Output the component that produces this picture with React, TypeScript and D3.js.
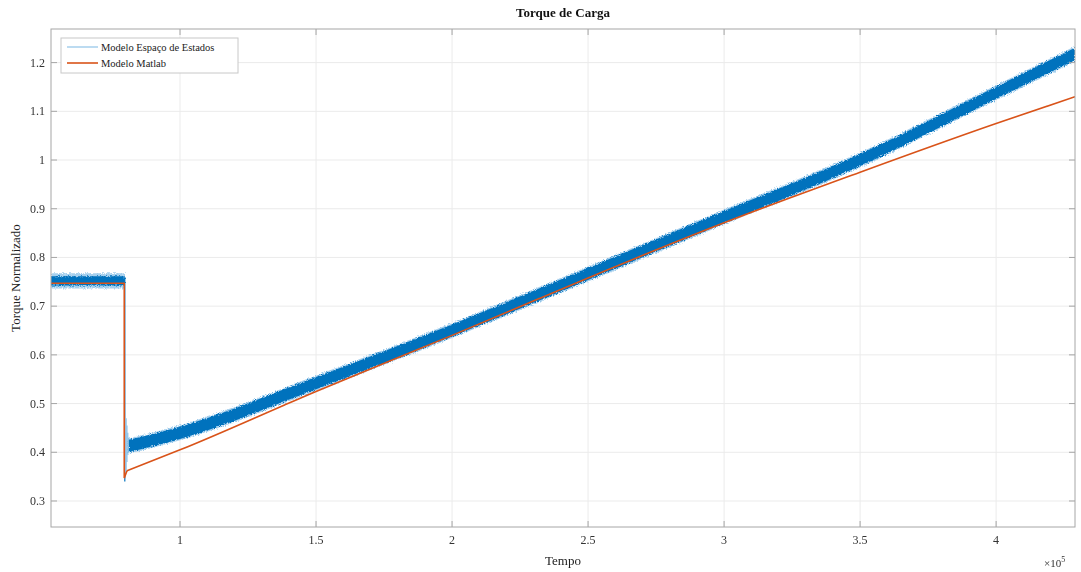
import React from "react";
import * as d3 from "d3";

const W = 1081;
const H = 572;
const margin = { left: 51, right: 6, top: 29, bottom: 45 };

const xTicks = [1, 1.5, 2, 2.5, 3, 3.5, 4];
const yTicks = [0.3, 0.4, 0.5, 0.6, 0.7, 0.8, 0.9, 1, 1.1, 1.2];

// Modelo Espaço de Estados (noisy band): center and half-width
const blueFlatX = [0.526, 0.6, 0.7, 0.797];
const blueFlatY = [0.752, 0.752, 0.752, 0.752];
const blueRampX = [0.812, 0.9, 1.0, 1.5, 2.0, 2.5, 3.0, 3.5, 4.0, 4.29];
const blueRampY = [0.413, 0.425, 0.44, 0.542, 0.65, 0.766, 0.883, 1.0, 1.138, 1.218];
const blueHalf = 0.0125;
// transient spikes around the step
const spikeX = [0.797, 0.799, 0.802, 0.805, 0.808, 0.811];
const spikeLo = [0.34, 0.345, 0.36, 0.38, 0.395, 0.4];
const spikeHi = [0.76, 0.44, 0.47, 0.455, 0.44, 0.43];

// Modelo Matlab
const orangeStepX = [0.526, 0.795, 0.795, 0.805];
const orangeStepY = [0.747, 0.747, 0.347, 0.362];
const orangeRampX = [0.805, 1.0, 1.5, 2.0, 2.5, 3.0, 3.5, 4.0, 4.29];
const orangeRampY = [0.362, 0.405, 0.525, 0.64, 0.758, 0.871, 0.975, 1.075, 1.13];

const BLUE = "#0072BD";
const LIGHT_BLUE = "#8fc3e8";
const ORANGE = "#D95319";
const FONT = "'Liberation Serif', 'DejaVu Serif', serif";

export default function App() {
  const x = d3.scaleLinear().domain([0.5257, 4.29]).range([margin.left, W - margin.right]);
  const y = d3.scaleLinear().domain([0.2466, 1.269]).range([H - margin.bottom, margin.top]);

  const x0 = margin.left, x1 = W - margin.right, y0 = margin.top, y1 = H - margin.bottom;

  const band = (xs: number[], ys: number[], h: number) =>
    d3
      .area<number>()
      .curve(d3.curveMonotoneX)
      .x((_, i) => x(xs[i]))
      .y0((d) => y(d - h))
      .y1((d) => y(d + h))(ys) || "";

  const stepLine =
    d3
      .line<number>()
      .x((_, i) => x(orangeStepX[i]))
      .y((d) => y(d))(orangeStepY) || "";
  const rampLine =
    d3
      .line<number>()
      .curve(d3.curveMonotoneX)
      .x((_, i) => x(orangeRampX[i]))
      .y((d) => y(d))(orangeRampY) || "";

  return (
    <svg width={W} height={H} style={{ display: "block", position: "absolute", left: 0, top: 0 }} fontFamily={FONT}>
      <rect x={0} y={0} width={W} height={H} fill="#fff" />
      <defs>
        <clipPath id="plot">
          <rect x={x0} y={y0} width={x1 - x0} height={y1 - y0} />
        </clipPath>
        <filter id="rough" x="-5%" y="-20%" width="110%" height="140%">
          <feTurbulence type="fractalNoise" baseFrequency="0.9" numOctaves={2} seed={3} result="n" />
          <feDisplacementMap in="SourceGraphic" in2="n" scale={4} xChannelSelector="R" yChannelSelector="G" />
        </filter>
      </defs>
      {/* grid */}
      {xTicks.map((t) => (
        <line key={"gx" + t} x1={x(t)} x2={x(t)} y1={y0} y2={y1} stroke="#ebebeb" strokeWidth={1} />
      ))}
      {yTicks.map((t) => (
        <line key={"gy" + t} x1={x0} x2={x1} y1={y(t)} y2={y(t)} stroke="#ebebeb" strokeWidth={1} />
      ))}
      <g clipPath="url(#plot)">
        {/* blue halo */}
        <g filter="url(#rough)">
          <path d={band(blueFlatX, blueFlatY, blueHalf + 0.003)} fill={LIGHT_BLUE} opacity={0.8} />
          <path d={band(blueRampX, blueRampY, blueHalf + 0.003)} fill={LIGHT_BLUE} opacity={0.8} />
        </g>
        {spikeX.map((sx, i) => (
          <line key={"sp" + i} x1={x(sx)} x2={x(sx)} y1={y(spikeLo[i])} y2={y(spikeHi[i])} stroke={i === 0 ? BLUE : LIGHT_BLUE} strokeWidth={1.2} />
        ))}
        <g filter="url(#rough)">
          <path d={band(blueFlatX, blueFlatY, blueHalf - 0.003)} fill={BLUE} />
          <path d={band(blueRampX, blueRampY, blueHalf)} fill={BLUE} />
        </g>
        <path d={stepLine} fill="none" stroke={ORANGE} strokeWidth={1.6} />
        <path d={rampLine} fill="none" stroke={ORANGE} strokeWidth={1.6} />
      </g>
      {/* frame */}
      <rect x={x0} y={y0} width={x1 - x0} height={y1 - y0} fill="none" stroke="#a6a6a6" strokeWidth={1} />
      {/* ticks */}
      {xTicks.map((t) => (
        <g key={"tx" + t}>
          <line x1={x(t)} x2={x(t)} y1={y1} y2={y1 - 6} stroke="#a6a6a6" />
          <line x1={x(t)} x2={x(t)} y1={y0} y2={y0 + 6} stroke="#a6a6a6" />
          <text x={x(t)} y={y1 + 17} textAnchor="middle" fontSize={12} fill="#333">
            {String(t)}
          </text>
        </g>
      ))}
      {yTicks.map((t) => (
        <g key={"ty" + t}>
          <line x1={x0} x2={x0 + 6} y1={y(t)} y2={y(t)} stroke="#a6a6a6" />
          <line x1={x1} x2={x1 - 6} y1={y(t)} y2={y(t)} stroke="#a6a6a6" />
          <text x={x0 - 6} y={y(t) + 4} textAnchor="end" fontSize={12} fill="#333">
            {String(t)}
          </text>
        </g>
      ))}
      {/* exponent */}
      <text x={1044} y={567} fontSize={11} fill="#333">
        ×10
        <tspan dy={-5} fontSize={8}>5</tspan>
      </text>
      {/* labels */}
      <text x={(x0 + x1) / 2} y={17} textAnchor="middle" fontSize={13} fontWeight="bold" fill="#111">
        Torque de Carga
      </text>
      <text x={(x0 + x1) / 2} y={565} textAnchor="middle" fontSize={13} fill="#222">
        Tempo
      </text>
      <text transform={`translate(20, ${(y0 + y1) / 2}) rotate(-90)`} textAnchor="middle" fontSize={13} fill="#222">
        Torque Normalizado
      </text>
      {/* legend */}
      <g>
        <rect x={61} y={38} width={177} height={35} fill="#fff" stroke="#c8c8c8" strokeWidth={1} />
        <line x1={67} x2={98} y1={47} y2={47} stroke={LIGHT_BLUE} strokeWidth={1.2} />
        <text x={101} y={50.5} fontSize={10.5} fill="#222">
          Modelo Espaço de Estados
        </text>
        <line x1={67} x2={98} y1={63} y2={63} stroke={ORANGE} strokeWidth={1.6} />
        <text x={101} y={66.5} fontSize={10.5} fill="#222">
          Modelo Matlab
        </text>
      </g>
    </svg>
  );
}
